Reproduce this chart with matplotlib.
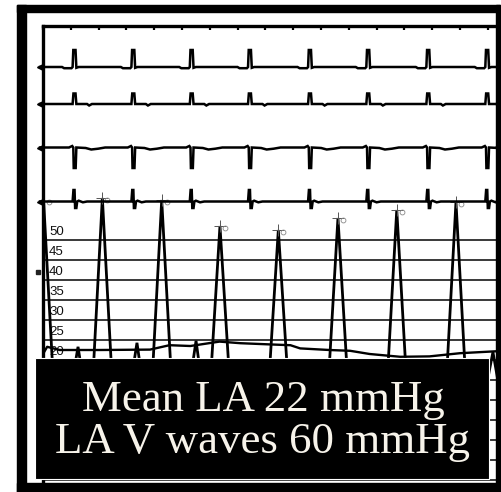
import numpy as np
import matplotlib
matplotlib.use("Agg")
import matplotlib.pyplot as plt
from matplotlib.patches import Rectangle
from matplotlib.transforms import offset_copy

# ---------------------------------------------------------------- data
# time in seconds, pressure in mmHg
v_wave_t = [0.004, 0.427, 0.854, 1.273, 1.693, 2.122, 2.545, 2.971]
v_wave_p = [60.0, 60.5, 60.0, 53.5, 52.5, 55.5, 57.5, 59.5]
a_wave_t = [0.252, 0.676, 1.101, 1.518, 1.950, 2.374, 2.799, 3.237]
a_wave_p = [23.3, 24.3, 24.8, 18.0, 18.0, 17.5, 17.5, 22.0]
trough_p = 12.0

mean_t = [0.00, 0.03, 0.12, 0.41, 0.77, 0.91, 1.06, 1.27, 1.42, 1.63,
          1.78, 1.85, 2.06, 2.21, 2.35, 2.57, 2.78, 3.00, 3.27]
mean_p = [21.5, 23.3, 22.5, 22.5, 22.6, 23.7, 23.5, 24.6, 24.2, 23.9,
          23.7, 22.9, 22.5, 22.3, 21.5, 20.8, 20.9, 21.7, 22.2]

scale_ticks = [50, 45, 40, 35, 30, 25, 20]
grid_levels = [50, 45, 40, 35, 30, 25, 20, 15, 10, 5, 0, -5, -10]

# QRS times (s)
qrs_t = [0.227, 0.650, 1.070, 1.489, 1.921, 2.340, 2.772, 3.196]

# per-lead beat templates: (offset from QRS in s, deflection)
lead_templates = [
    [(-0.09, 0), (-0.075, -1.2), (-0.022, -1.2), (-0.014, 0), (-0.009, 17),
     (0.007, 17), (0.013, -0.8), (0.03, 0)],
    [(-0.014, 0), (-0.008, 10.5), (0.007, 10.5), (0.013, 0), (0.09, 0),
     (0.105, -1.5), (0.125, 0)],
    [(-0.04, 0), (-0.017, 1.5), (-0.009, 0), (-0.006, -20.5), (0.008, -20.5),
     (0.013, 0), (0.08, -0.5), (0.12, -2.0), (0.17, -1.2), (0.22, 0)],
    [(-0.014, 0), (-0.008, 11.5), (0.0, 11.5), (0.004, -6.5), (0.013, -6.5),
     (0.019, 0), (0.03, 0.8), (0.06, -0.8), (0.09, 0)],
]

headline = ["Mean LA 22 mmHg", "LA V waves 60 mmHg"]

# ---------------------------------------------------------------- layout
W, H = 502, 492
T_END = 454 / 139.0
ecg_baselines = [67, 104, 147.5, 201.5]


def fx(px):
    return px / W


def fy(py):
    return 1 - py / H


fig = plt.figure(figsize=(W / 100, H / 100), dpi=100)
fig.patch.set_facecolor("white")

ax_pos = [fx(43), fy(482), fx(497) - fx(43), fy(26) - fy(482)]
ax = fig.add_axes(ax_pos)
ax.set_xlim(0, T_END)
ax.set_ylim(-10.5, 103.5)
for side in ("right", "bottom"):
    ax.spines[side].set_visible(False)
ax.spines["left"].set_linewidth(2.4)
ax.spines["top"].set_linewidth(2.4)
ax.set_yticks([])
ax.xaxis.tick_top()
ax.set_xticks(np.arange(0, T_END, 0.2))
ax.tick_params(axis="x", direction="in", length=3, width=1.6,
               labeltop=False, labelbottom=False, bottom=False)

# horizontal pressure scale lines
for g in grid_levels:
    ax.axhline(g, color="#2a2a2a", lw=1.3, zorder=1)
for v in scale_ticks:
    ax.text(0.043, v + 0.6, str(v), ha="left", va="bottom",
            fontsize=9.5, family="Liberation Sans", color="#111", zorder=3)

# phasic LA pressure built from the V- and a-wave points
pts = []
for t, p in zip(v_wave_t, v_wave_p):
    pts += [(t - 0.075, trough_p - 1), (t, p), (t + 0.075, trough_p)]
for t, p in zip(a_wave_t, a_wave_p):
    pts += [(t - 0.05, trough_p + 1), (t, p), (t + 0.05, trough_p)]
pts.sort()
pt, pp = zip(*pts)
ax.plot(pt, pp, color="black", lw=2.0, zorder=4, solid_joinstyle="miter")

# mean pressure trace
ax.plot(mean_t, mean_p, color="black", lw=1.7, zorder=4)

# peak cursors
ax.plot(v_wave_t[1:], v_wave_p[1:], ls="none", marker="+", ms=8, mew=0.7,
        color="#555", zorder=5)
tr = offset_copy(ax.transData, fig=fig, x=5, y=-2, units="dots")
ax.plot(v_wave_t, v_wave_p, ls="none", marker="o", ms=3.5, mew=0.6,
        mfc="none", mec="#888", transform=tr, zorder=5)
ax.plot([-0.035], [41.9], ls="none", marker="s", ms=3, color="#222",
        clip_on=False)

# ECG leads on an overlaid axes measured in screen rows
ax_ecg = fig.add_axes(ax_pos, sharex=ax)
ax_ecg.set_ylim(482, 26)
ax_ecg.axis("off")
ax_ecg.patch.set_alpha(0)
for base, tmpl in zip(ecg_baselines, lead_templates):
    xs, ys = [-0.022], [base]
    for q in qrs_t:
        for dt, amp in tmpl:
            xs.append(q + dt)
            ys.append(base - amp)
    xs.append(T_END)
    ys.append(base)
    ax_ecg.plot(xs, ys, color="black", lw=1.8, clip_on=False,
                solid_joinstyle="miter")
    ax_ecg.plot([-0.025], [base], ls="none", marker="<", ms=4,
                color="black", clip_on=False)

# outer frame
for (x0, y0, w, h) in [(17, 5, 9, 487), (17, 5, 483, 7), (496, 5, 4, 487),
                       (17, 483, 485, 9)]:
    fig.add_artist(Rectangle((fx(x0), fy(y0 + h)), w / W, h / H,
                             transform=fig.transFigure, color="black",
                             zorder=10))

# caption box
fig.add_artist(Rectangle((fx(35), fy(479)), (489 - 35) / W, (479 - 358) / H,
                         transform=fig.transFigure, facecolor="black",
                         edgecolor="white", lw=0.8, zorder=10))
for line, base_y in zip(headline, [411, 453]):
    fig.text(fx(263), fy(base_y), line, ha="center", va="baseline",
             fontsize=32.3, family="Liberation Serif", color="#f7f3ea",
             zorder=11)

fig.savefig("out.png", dpi=100, facecolor="white")
